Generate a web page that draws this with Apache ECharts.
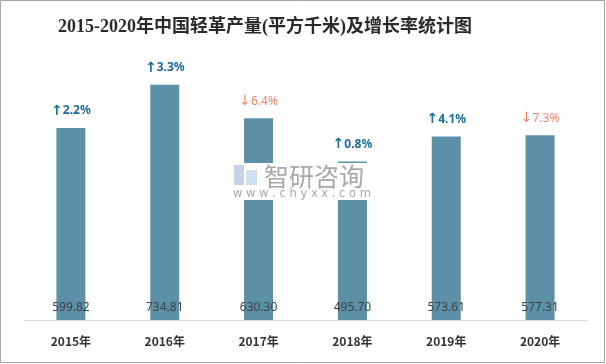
<!DOCTYPE html>
<html>
<head>
<meta charset="utf-8">
<script src="https://cdn.jsdelivr.net/npm/echarts@6/dist/echarts.min.js"></script>
<style>
html,body{margin:0;padding:0;background:#fff;}
#chart{width:606px;height:364px;}
</style>
</head>
<body>
<div id="chart"></div>
<script>
var titleText = '2015-2020年中国轻革产量(平方千米)及增长率统计图';
var categories = ['2015年', '2016年', '2017年', '2018年', '2019年', '2020年'];
var production = [599.82, 734.81, 630.30, 495.70, 573.61, 577.31];
var growthRate = [2.2, 3.3, -6.4, 0.8, 4.1, -7.3];

var chart = echarts.init(document.getElementById('chart'), null, {renderer: 'canvas'});
var option = {
  backgroundColor: '#ffffff',
  animation: false,
  title: {
    text: titleText,
    left: 53,
    top: 13,
    textStyle: {
      fontFamily: '"Liberation Serif", "Noto Sans CJK SC", serif',
      fontSize: 18,
      fontWeight: 'bold',
      color: '#2a2a2a'
    }
  },
  grid: {left: 24, right: 19, top: 64, bottom: 44},
  xAxis: {
    type: 'category',
    data: categories,
    axisLine: {lineStyle: {color: '#d9d9d9', width: 1}},
    axisTick: {show: false},
    axisLabel: {
      margin: 15,
      fontSize: 12,
      fontWeight: 'bold',
      color: '#333333',
      fontFamily: '"Noto Sans CJK SC", "Noto Sans", sans-serif'
    }
  },
  yAxis: {
    type: 'value',
    min: 0,
    max: 800,
    show: false,
    splitLine: {show: false}
  },
  series: [
    {
      type: 'bar',
      data: production,
      barWidth: 29,
      itemStyle: {color: '#5b90a7'},
      label: {
        show: true,
        position: 'insideBottom',
        distance: 6,
        fontSize: 12,
        color: '#404040',
        fontFamily: '"Noto Sans", "DejaVu Sans", sans-serif',
        formatter: function (p) { return production[p.dataIndex].toFixed(2); }
      }
    },
    {
      type: 'bar',
      data: production,
      barWidth: 29,
      barGap: '-100%',
      itemStyle: {color: 'rgba(0,0,0,0)'},
      label: {
        show: true,
        position: 'top',
        distance: 10,
        formatter: function (p) {
          var g = growthRate[p.dataIndex];
          var arrow = g >= 0 ? '↑' : '↓';
          var num = Math.abs(g).toFixed(1) + '%';
          return g >= 0 ? '{ua|' + arrow + '}{up|' + num + '}' : '{da|' + arrow + '}{down|' + num + '}';
        },
        rich: {
          ua: {color: '#1b6d95', fontSize: 14, fontWeight: 'bold', fontFamily: '"DejaVu Sans", sans-serif'},
          up: {color: '#1b6d95', fontSize: 12, fontWeight: 'bold', fontFamily: '"Noto Sans", "DejaVu Sans", sans-serif'},
          da: {color: '#f0876a', fontSize: 14, fontWeight: 'normal', fontFamily: '"DejaVu Sans", sans-serif'},
          down: {color: '#f0876a', fontSize: 12, fontWeight: 'normal', fontFamily: '"Noto Sans", "DejaVu Sans", sans-serif'}
        }
      }
    }
  ],
  graphic: [
    {
      type: 'rect',
      z: 200,
      silent: true,
      shape: {x: 0.5, y: 0.5, width: 604, height: 362},
      style: {fill: 'none', stroke: '#a6a6a6', lineWidth: 1}
    },
    {type: 'rect', z: 150, silent: true, shape: {x: 232, y: 163, width: 143, height: 37}, style: {fill: '#ffffff'}},
    {type: 'rect', z: 151, silent: true, shape: {x: 234, y: 165, width: 10, height: 20}, style: {fill: '#c9d3e6'}},
    {type: 'rect', z: 151, silent: true, shape: {x: 246, y: 170, width: 11, height: 15}, style: {fill: '#cfe0f0'}},
    {type: 'text', z: 151, silent: true, x: 264, y: 164, style: {text: '智研咨询', fill: '#a8a8a8', fontSize: 25, fontFamily: '"Noto Sans CJK SC", sans-serif'}},
    {type: 'text', z: 151, silent: true, x: 233, y: 188, style: {text: 'w w w . c h y x x . c o m', fill: '#a8a8a8', fontSize: 11.5, fontFamily: '"DejaVu Sans", sans-serif'}}
  ]
};
chart.setOption(option);
</script>
</body>
</html>
